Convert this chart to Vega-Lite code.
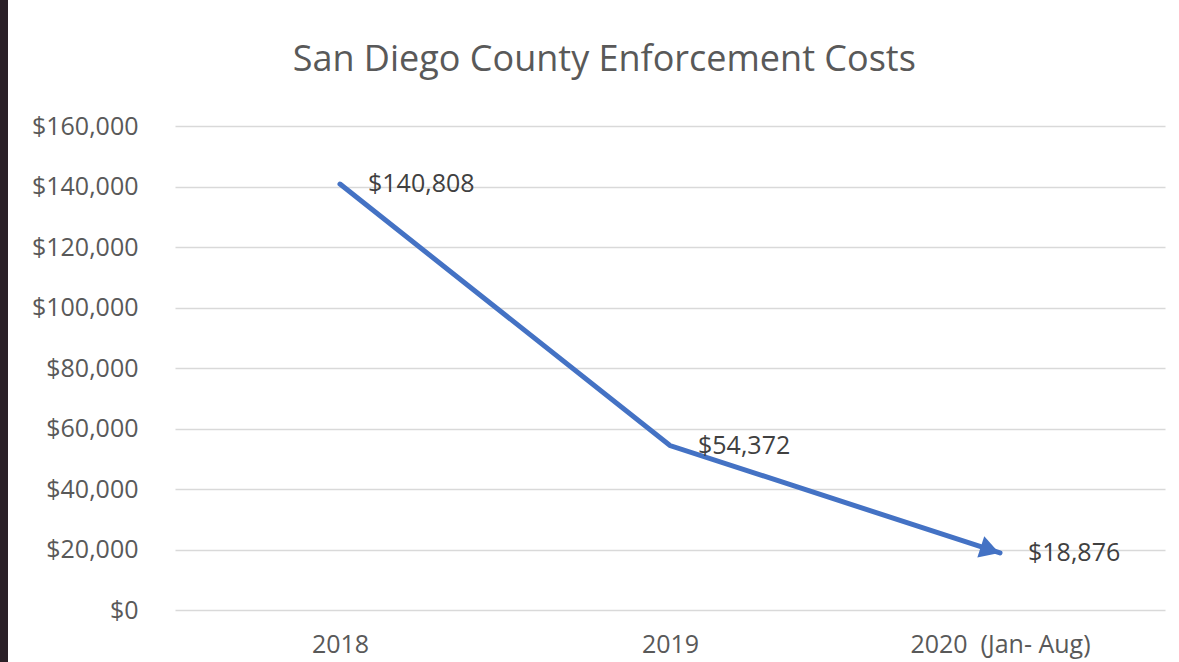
{
  "$schema": "https://vega.github.io/schema/vega-lite/v6.json",
  "autosize": "none",
  "width": 990,
  "height": 484,
  "padding": {"left": 175, "top": 126, "right": 14, "bottom": 52},
  "background": "#2a2027",
  "title": {
    "text": "San Diego County Enforcement Costs",
    "anchor": "middle",
    "frame": "bounds",
    "font": "Open Sans",
    "fontSize": 36,
    "fontWeight": "normal",
    "color": "#595959",
    "baseline": "alphabetic",
    "offset": 7,
    "dx": 6
  },
  "config": {
    "view": {"fill": "white", "stroke": "white", "strokeWidth": 334},
    "font": "Open Sans"
  },
  "data": {
    "values": [
      {"year": "2018", "cost": 140808},
      {"year": "2019", "cost": 54372},
      {"year": "2020\u00a0\u00a0(Jan- Aug)", "cost": 18876}
    ]
  },
  "encoding": {
    "x": {
      "field": "year",
      "type": "nominal",
      "sort": null,
      "scale": {"type": "point", "padding": 0.5},
      "axis": {
        "title": null,
        "labelAngle": 0,
        "ticks": false,
        "domain": false,
        "grid": false,
        "labelFont": "Open Sans",
        "labelFontSize": 25,
        "labelColor": "#595959",
        "labelPadding": 22,
        "labelLimit": 400
      }
    },
    "y": {
      "field": "cost",
      "type": "quantitative",
      "scale": {"domain": [0, 160000], "nice": false},
      "axis": {
        "title": null,
        "values": [0, 20000, 40000, 60000, 80000, 100000, 120000, 140000, 160000],
        "format": "$,.0f",
        "ticks": false,
        "domain": false,
        "grid": true,
        "gridColor": "#d9d9d9",
        "gridWidth": 1.5,
        "labelFont": "Open Sans",
        "labelFontSize": 25,
        "labelColor": "#595959",
        "labelPadding": 37
      }
    }
  },
  "layer": [
    {
      "mark": {"type": "line", "color": "#4472C4", "strokeWidth": 5, "strokeCap": "round"}
    },
    {
      "transform": [{"filter": {"field": "cost", "lt": 20000}}],
      "mark": {
        "type": "point",
        "shape": "triangle-right",
        "filled": true,
        "opacity": 1,
        "size": 500,
        "angle": 18,
        "color": "#4472C4",
        "xOffset": -10,
        "yOffset": -3
      }
    },
    {
      "mark": {
        "type": "text",
        "align": "left",
        "baseline": "middle",
        "dx": 28,
        "font": "Open Sans",
        "fontSize": 25,
        "color": "#404040"
      },
      "encoding": {
        "text": {"field": "cost", "type": "quantitative", "format": "$,.0f"}
      }
    }
  ]
}
